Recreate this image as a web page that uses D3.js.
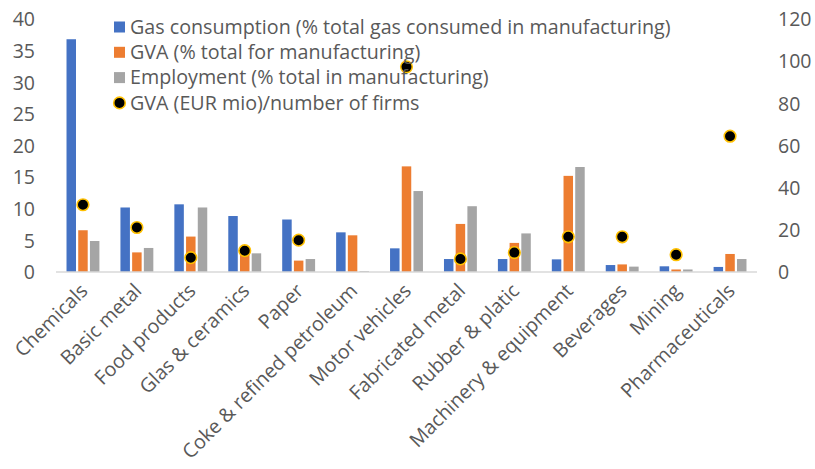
<!DOCTYPE html>
<html><head><meta charset="utf-8">
<script src="https://cdn.jsdelivr.net/npm/d3@7"></script>
<style>body{margin:0;background:#fff}svg{display:block}</style>
</head><body><svg id="c" width="815" height="469"></svg>
<script>
const categories = ["Chemicals","Basic metal","Food products","Glas & ceramics","Paper","Coke & refined petroleum","Motor vehicles","Fabricated metal","Rubber & platic","Machinery & equipment","Beverages","Mining","Pharmaceuticals"];
const gasConsumption = [36.8,10.2,10.7,8.85,8.3,6.27,3.74,2.05,2.05,2.0,1.1,0.9,0.8];
const gvaShare = [6.6,3.1,5.6,3.0,1.8,5.8,16.7,7.6,4.6,15.2,1.2,0.4,2.85];
const employment = [4.9,3.8,10.2,2.95,2.05,0.15,12.8,10.4,6.1,16.6,0.85,0.4,2.05];
const gvaPerFirm = [31.9,21.1,6.8,10.1,15.1,null,97.3,6.2,9.2,16.7,16.7,8.2,64.4];
const seriesNames = ["Gas consumption (% total gas consumed in manufacturing)","GVA (% total for manufacturing)","Employment (% total in manufacturing)","GVA (EUR mio)/number of firms"];
const leftTicks = [0,5,10,15,20,25,30,35,40];
const rightTicks = [0,20,40,60,80,100,120];
const colors = ["#4472C4","#ED7D31","#A5A5A5"];

const svg = d3.select("#c");
const font = "'Open Sans', sans-serif";
const textColor = "#595959";
const x = d3.scaleBand().domain(categories).range([56,757]).padding(0);
const yL = d3.scaleLinear().domain([0,40]).range([272,19]);
const yR = d3.scaleLinear().domain([0,120]).range([272,19]);
const barSeries = [gasConsumption, gvaShare, employment];
const inner = d3.scaleBand().domain([0,1,2]).range([-16.45,16.45]).paddingInner(0.19).paddingOuter(0);

barSeries.forEach((vals, si) => {
  svg.append("g").selectAll("rect").data(vals).join("rect")
    .attr("x", (d,i) => x(categories[i]) + x.bandwidth()/2 + inner(si))
    .attr("width", inner.bandwidth())
    .attr("y", d => yL(d))
    .attr("height", d => yL(0) - yL(d))
    .attr("fill", colors[si]);
});

// axis line
svg.append("line").attr("x1",56).attr("x2",757).attr("y1",yL(0)).attr("y2",yL(0))
  .attr("stroke","#D9D9D9").attr("stroke-width",1.5);

// left axis
const la = svg.append("g").attr("transform","translate(35,0)")
  .call(d3.axisLeft(yL).tickValues(leftTicks).tickSize(0).tickPadding(0));
la.select(".domain").remove();
la.selectAll("text").attr("font-family",font).attr("font-size",19.5).attr("fill",textColor).attr("dy","0.35em");

// right axis
const ra = svg.append("g").attr("transform","translate(778,0)")
  .call(d3.axisRight(yR).tickValues(rightTicks).tickSize(0).tickPadding(0));
ra.select(".domain").remove();
ra.selectAll("text").attr("font-family",font).attr("font-size",19.5).attr("fill",textColor).attr("dy","0.35em");

// dots
svg.append("g").selectAll("circle").data(gvaPerFirm.map((v,i)=>({v,c:categories[i]})).filter(d=>d.v!=null))
  .join("circle")
  .attr("cx", d => x(d.c) + x.bandwidth()/2)
  .attr("cy", d => yR(d.v))
  .attr("r", 5.8).attr("fill","#000").attr("stroke","#FFC000").attr("stroke-width",1.6);

// x labels
svg.append("g").selectAll("text").data(categories).join("text")
  .attr("transform", d => `translate(${x(d)+x.bandwidth()/2+6},${292}) rotate(-45)`)
  .attr("text-anchor","end")
  .attr("font-family",font).attr("font-size",19.7).attr("fill",textColor)
  .text(d => d);

// legend
const lg = svg.append("g");
seriesNames.forEach((name,i) => {
  const cy = 27 + i*25.3;
  if (i < 3) {
    lg.append("rect").attr("x",114).attr("y",cy-5.5).attr("width",11).attr("height",11).attr("fill",colors[i]);
  } else {
    lg.append("circle").attr("cx",119.5).attr("cy",cy).attr("r",5.8).attr("fill","#000").attr("stroke","#FFC000").attr("stroke-width",1.6);
  }
  lg.append("text").attr("x",130).attr("y",cy).attr("dy","0.35em")
    .attr("font-family",font).attr("font-size",19.7).attr("fill",textColor).text(name);
});
</script></body></html>
